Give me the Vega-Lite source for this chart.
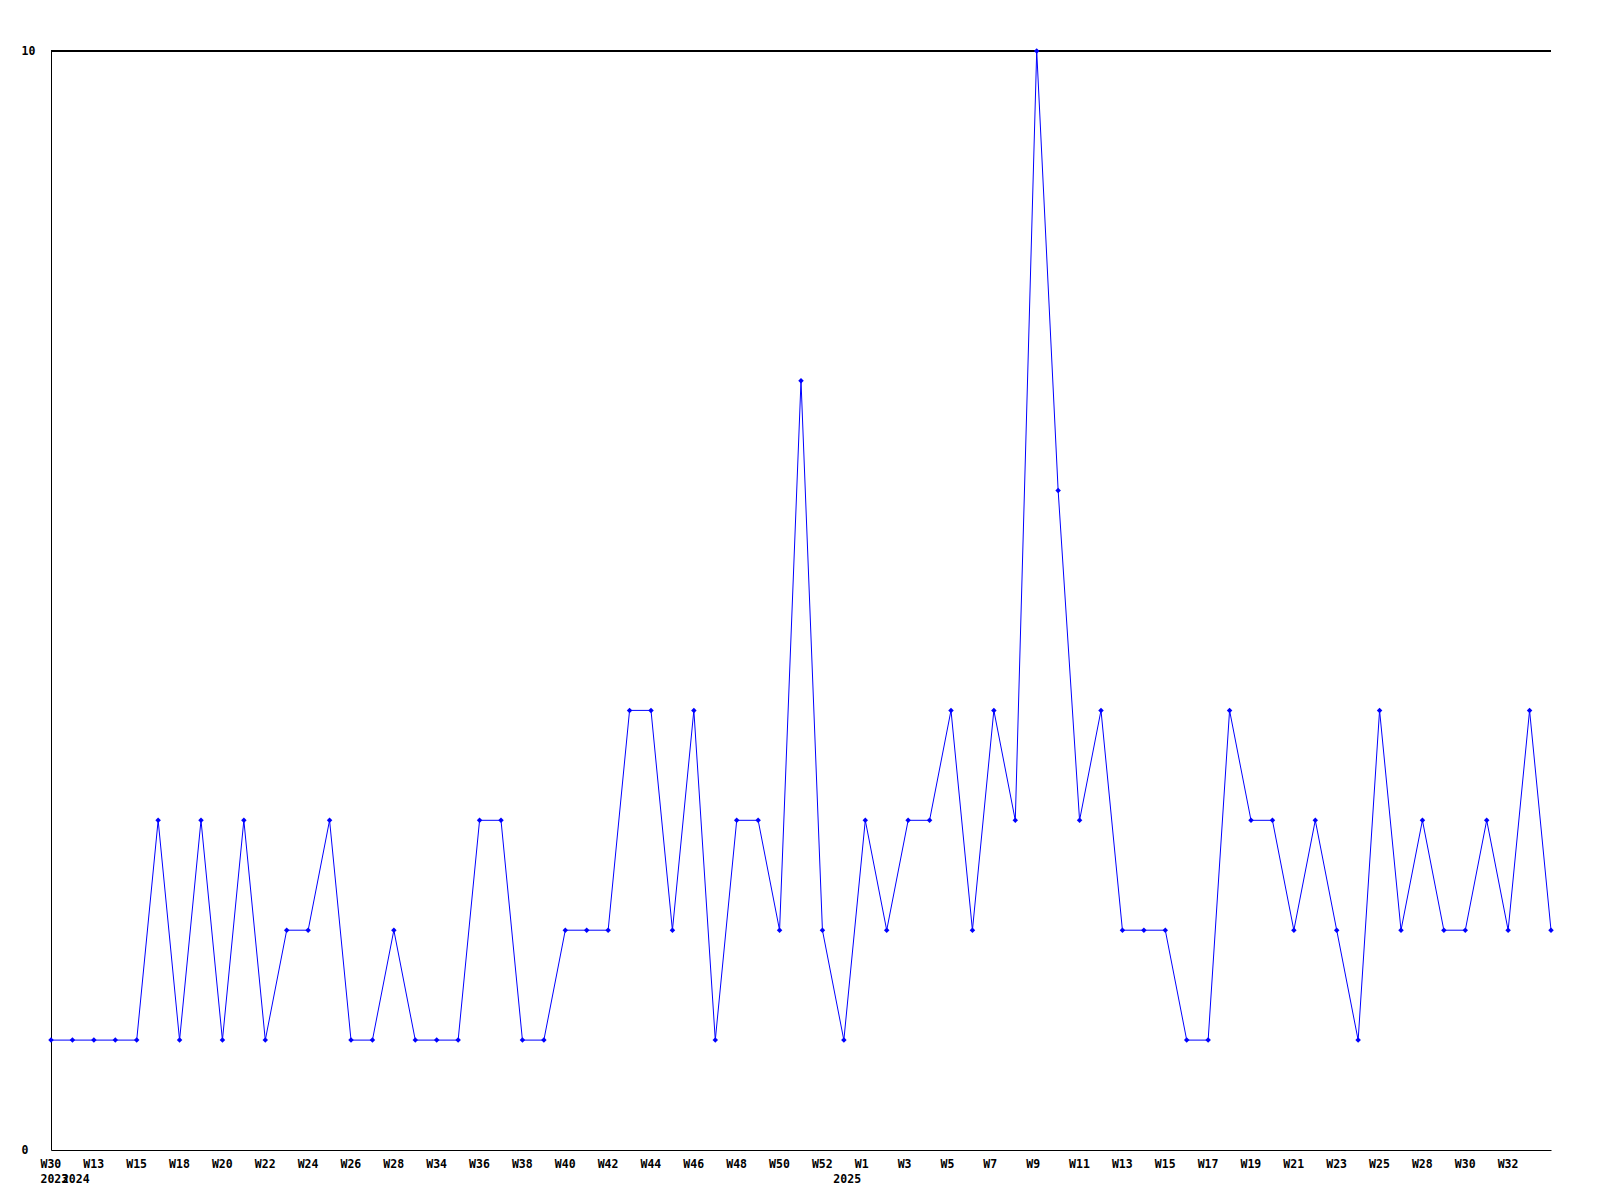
{
  "$schema": "https://vega.github.io/schema/vega-lite/v6.json",
  "width": 1500,
  "height": 1099,
  "autosize": {"type": "none"},
  "padding": {"left": 51, "top": 51, "right": 49, "bottom": 50},
  "background": "white",
  "config": {
    "view": {"stroke": null},
    "axis": {"grid": false, "ticks": false, "domainColor": "black", "domainWidth": 1, "labelFont": "DejaVu Sans Mono", "labelFontWeight": "bold", "labelFontSize": 11.5, "labelColor": "black", "title": null}
  },
  "data": {"values": [
    {"week": "2023-W30", "count": 1},
    {"week": "2024-W12", "count": 1},
    {"week": "2024-W13", "count": 1},
    {"week": "2024-W14", "count": 1},
    {"week": "2024-W15", "count": 1},
    {"week": "2024-W16", "count": 3},
    {"week": "2024-W18", "count": 1},
    {"week": "2024-W19", "count": 3},
    {"week": "2024-W20", "count": 1},
    {"week": "2024-W21", "count": 3},
    {"week": "2024-W22", "count": 1},
    {"week": "2024-W23", "count": 2},
    {"week": "2024-W24", "count": 2},
    {"week": "2024-W25", "count": 3},
    {"week": "2024-W26", "count": 1},
    {"week": "2024-W27", "count": 1},
    {"week": "2024-W28", "count": 2},
    {"week": "2024-W33", "count": 1},
    {"week": "2024-W34", "count": 1},
    {"week": "2024-W35", "count": 1},
    {"week": "2024-W36", "count": 3},
    {"week": "2024-W37", "count": 3},
    {"week": "2024-W38", "count": 1},
    {"week": "2024-W39", "count": 1},
    {"week": "2024-W40", "count": 2},
    {"week": "2024-W41", "count": 2},
    {"week": "2024-W42", "count": 2},
    {"week": "2024-W43", "count": 4},
    {"week": "2024-W44", "count": 4},
    {"week": "2024-W45", "count": 2},
    {"week": "2024-W46", "count": 4},
    {"week": "2024-W47", "count": 1},
    {"week": "2024-W48", "count": 3},
    {"week": "2024-W49", "count": 3},
    {"week": "2024-W50", "count": 2},
    {"week": "2024-W51", "count": 7},
    {"week": "2024-W52", "count": 2},
    {"week": "2025-W00", "count": 1},
    {"week": "2025-W1", "count": 3},
    {"week": "2025-W2", "count": 2},
    {"week": "2025-W3", "count": 3},
    {"week": "2025-W4", "count": 3},
    {"week": "2025-W5", "count": 4},
    {"week": "2025-W6", "count": 2},
    {"week": "2025-W7", "count": 4},
    {"week": "2025-W8", "count": 3},
    {"week": "2025-W9", "count": 10},
    {"week": "2025-W10", "count": 6},
    {"week": "2025-W11", "count": 3},
    {"week": "2025-W12", "count": 4},
    {"week": "2025-W13", "count": 2},
    {"week": "2025-W14", "count": 2},
    {"week": "2025-W15", "count": 2},
    {"week": "2025-W16", "count": 1},
    {"week": "2025-W17", "count": 1},
    {"week": "2025-W18", "count": 4},
    {"week": "2025-W19", "count": 3},
    {"week": "2025-W20", "count": 3},
    {"week": "2025-W21", "count": 2},
    {"week": "2025-W22", "count": 3},
    {"week": "2025-W23", "count": 2},
    {"week": "2025-W24", "count": 1},
    {"week": "2025-W25", "count": 4},
    {"week": "2025-W27", "count": 2},
    {"week": "2025-W28", "count": 3},
    {"week": "2025-W29", "count": 2},
    {"week": "2025-W30", "count": 2},
    {"week": "2025-W31", "count": 3},
    {"week": "2025-W32", "count": 2},
    {"week": "2025-W33", "count": 4},
    {"week": "2025-W34", "count": 2}
  ]},
  "layer": [
    {
      "mark": {"type": "rule", "color": "black", "strokeWidth": 1},
      "encoding": {"y": {"datum": 10, "type": "quantitative", "scale": {"domain": [0, 10]}}}
    },
    {
      "mark": {"type": "line", "color": "#0000ff", "strokeWidth": 1, "point": {"shape": "diamond", "size": 30, "filled": true, "color": "#0000ff"}},
      "encoding": {
        "x": {
          "field": "week", "type": "ordinal", "sort": null,
          "scale": {"type": "point", "padding": 0},
          "axis": {
            "labelAngle": 0, "labelAlign": "left", "labelOffset": -11, "labelPadding": 8, "labelBaseline": "top", "labelLineHeight": 15, "labelOverlap": false,
            "values": ["2023-W30", "2024-W12", "2024-W13", "2024-W15", "2024-W18", "2024-W20", "2024-W22", "2024-W24", "2024-W26", "2024-W28", "2024-W34", "2024-W36", "2024-W38", "2024-W40", "2024-W42", "2024-W44", "2024-W46", "2024-W48", "2024-W50", "2024-W52", "2025-W00", "2025-W1", "2025-W3", "2025-W5", "2025-W7", "2025-W9", "2025-W11", "2025-W13", "2025-W15", "2025-W17", "2025-W19", "2025-W21", "2025-W23", "2025-W25", "2025-W28", "2025-W30", "2025-W32"],
            "labelExpr": "datum.value == '2023-W30' ? ['W30', '2023'] : datum.value == '2024-W12' ? ['', '2024'] : datum.value == '2025-W00' ? ['', '2025'] : split(datum.value, '-')[1]"
          }
        },
        "y": {
          "field": "count", "type": "quantitative",
          "scale": {"domain": [0, 10], "nice": false},
          "axis": {"values": [0, 10], "format": "d", "labelAlign": "left", "labelPadding": 30, "labelBaseline": "middle"}
        }
      }
    }
  ]
}
